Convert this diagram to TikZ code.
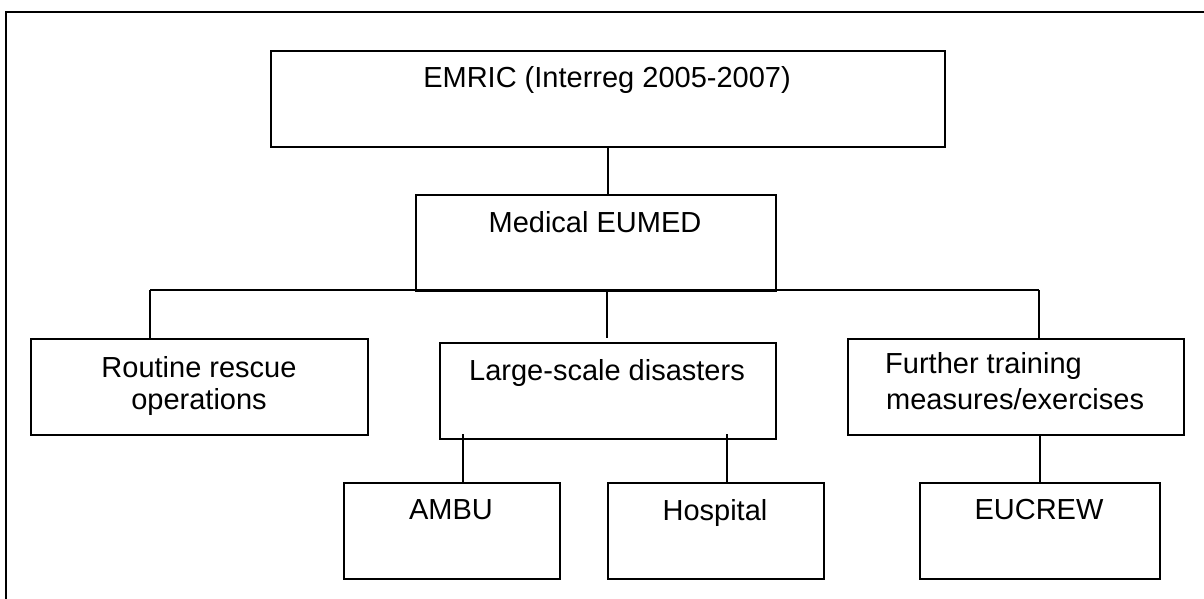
\documentclass[tikz,border=0pt]{standalone}
\usepackage{fontspec}
\setmainfont{Liberation Sans}
\begin{document}
\begin{tikzpicture}[x=1pt,y=-1pt,
  box/.style={draw=black, line width=2pt, inner sep=0pt, anchor=north west, minimum height=96pt},
  lbl/.style={anchor=base, inner sep=0pt, font=\fontsize{29}{33}\selectfont},
  lblL/.style={anchor=base west, inner sep=0pt, font=\fontsize{29}{33}\selectfont},
  conn/.style={draw=black, line width=1.8pt},
  frame/.style={draw=black, line width=2.5pt}]
\useasboundingbox (0,0) rectangle (1204,599);
\draw[frame] (6,600) -- (6,12) -- (1205,12);
% boxes
\node[box, minimum width=674pt] (emric) at (270,50) {};
\node[box, minimum width=360pt] (medical) at (415,194) {};
\node[box, minimum width=337pt] (routine) at (30,338) {};
\node[box, minimum width=336pt] (large) at (439,342) {};
\node[box, minimum width=336pt] (further) at (847,338) {};
\node[box, minimum width=216pt] (ambu) at (343,482) {};
\node[box, minimum width=216pt] (hospital) at (607,482) {};
\node[box, minimum width=240pt] (eucrew) at (919,482) {};
% texts
\node[lbl] (t-emric) at (607,88) {EMRIC (Interreg 2005-2007)};
\node[lbl] (t-medical) at (595,232) {Medical EUMED};
\node[lbl] (t-large) at (607,380) {Large-scale disasters};
\node[lbl] (t-routine1) at (199,377) {Routine rescue};
\node[lbl] (t-routine2) at (199,409) {operations};
\node[lblL] (t-further1) at (885,373) {Further training};
\node[lblL] (t-further2) at (886,409) {measures/exercises};
\node[lbl] (t-ambu) at (451,519) {AMBU};
\node[lbl] (t-hospital) at (715,520) {Hospital};
\node[lbl] (t-eucrew) at (1039,519) {EUCREW};
% connector points
\coordinate (busL) at (150,290);
\coordinate (busM) at (607,290);
\coordinate (busR) at (1039,290);
\coordinate (midEnd) at (607,338);
\coordinate (aTop) at (463,434);
\coordinate (hTop) at (727,434);
% connectors
\draw[conn] (emric.south) -- (emric.south |- medical.north);
\draw[conn] (busL) -- (busR);
\draw[conn] (busL) -- (busL |- routine.north);
\draw[conn] (busM) -- (midEnd);
\draw[conn] (busR) -- (busR |- further.north);
\draw[conn] (aTop) -- (aTop |- ambu.north);
\draw[conn] (hTop) -- (hTop |- hospital.north);
\draw[conn] (eucrew.north |- further.south) -- (eucrew.north);
\end{tikzpicture}
\end{document}
